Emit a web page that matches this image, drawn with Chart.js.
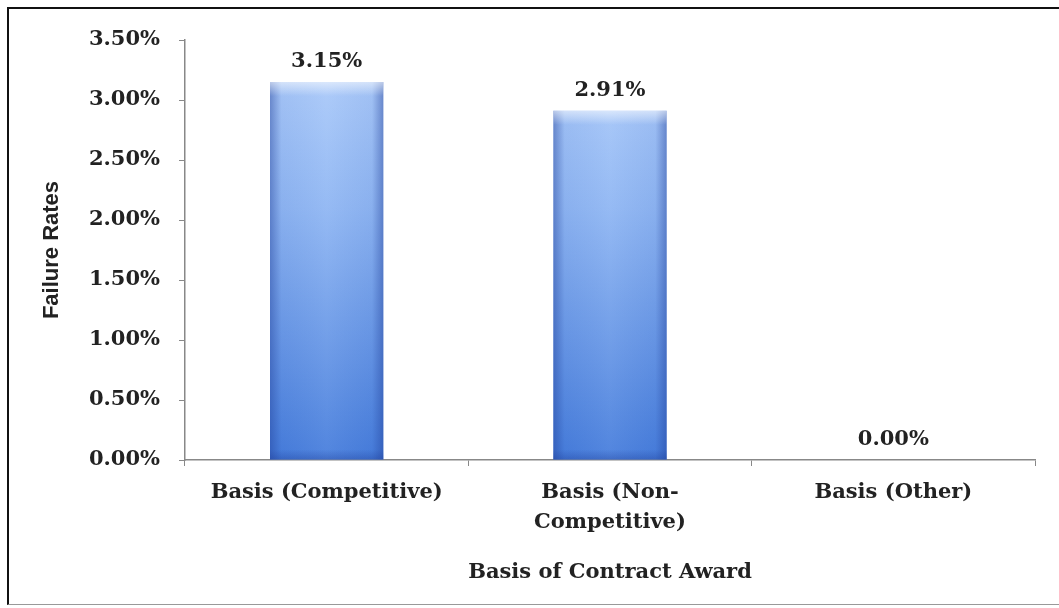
<!DOCTYPE html>
<html><head><meta charset="utf-8">
<script src="https://cdn.jsdelivr.net/npm/chart.js@4/dist/chart.umd.min.js"></script>
<style>
html,body{margin:0;padding:0;background:#fff;overflow:hidden;}
#wrap{position:absolute;left:0;top:0;width:1059px;height:608px;}
#box{position:absolute;left:7px;top:7px;width:1060px;height:598px;border-left:2px solid #111;border-top:2px solid #111;border-bottom:1px solid #999;box-sizing:border-box;pointer-events:none;}
</style></head>
<body>
<div id="wrap"><canvas id="c"></canvas></div>
<div id="box"></div>
<script>
const categories = [["Basis (Competitive)"], ["Basis (Non-", "Competitive)"], ["Basis (Other)"]];
const failureRates = [3.15, 2.91, 0.00];
const yTicks = [0, 0.5, 1.0, 1.5, 2.0, 2.5, 3.0, 3.5];
const xTitle = "Basis of Contract Award";
const yTitle = "Failure Rates";

const SERIF = "'DejaVu Serif', 'Liberation Serif', serif";
const SANS = "'Liberation Sans', Arial, sans-serif";

const valueLabels = {
  id: 'valueLabels',
  afterDatasetsDraw(chart) {
    const ctx = chart.ctx;
    const meta = chart.getDatasetMeta(0);
    ctx.save();
    ctx.font = "bold 21px " + SERIF;
    ctx.fillStyle = "#222";
    ctx.textAlign = "center";
    ctx.textBaseline = "alphabetic";
    meta.data.forEach((bar, i) => {
      ctx.fillText(failureRates[i].toFixed(2) + "%", bar.x, bar.y - 15);
    });
    ctx.restore();
  }
};

const barShade = {
  id: 'barShade',
  afterDatasetDraw(chart) {
    const ctx = chart.ctx;
    const meta = chart.getDatasetMeta(0);
    ctx.save();
    meta.data.forEach((bar) => {
      const w = bar.width, left = bar.x - w / 2, top = bar.y, h = bar.base - bar.y;
      if (h <= 0) return;
      const g = ctx.createLinearGradient(left, 0, left + w, 0);
      g.addColorStop(0, 'rgba(30,60,150,0.45)');
      g.addColorStop(0.1, 'rgba(30,60,150,0.05)');
      g.addColorStop(0.5, 'rgba(255,255,255,0.06)');
      g.addColorStop(0.9, 'rgba(30,60,150,0.05)');
      g.addColorStop(1, 'rgba(30,60,150,0.45)');
      ctx.fillStyle = g;
      ctx.fillRect(left, top, w, h);
      const t = ctx.createLinearGradient(0, top, 0, top + 14);
      t.addColorStop(0, 'rgba(255,255,255,0.55)');
      t.addColorStop(1, 'rgba(255,255,255,0)');
      ctx.fillStyle = t;
      ctx.fillRect(left, top, w, 14);
      const b = ctx.createLinearGradient(0, top + h - 10, 0, top + h);
      b.addColorStop(0, 'rgba(30,60,150,0)');
      b.addColorStop(1, 'rgba(30,60,150,0.35)');
      ctx.fillStyle = b;
      ctx.fillRect(left, top + h - 10, w, 10);
    });
    ctx.restore();
  }
};

new Chart(document.getElementById('c'), {
  type: 'bar',
  data: {
    labels: categories,
    datasets: [{
      data: failureRates,
      backgroundColor: (c) => {
        const area = c.chart.chartArea;
        if (!area) return '#6a9be8';
        const g = c.chart.ctx.createLinearGradient(0, area.top, 0, area.bottom);
        g.addColorStop(0, '#b2cffb');
        g.addColorStop(0.4, '#8fb6f3');
        g.addColorStop(1, '#467ddc');
        return g;
      },
      borderWidth: 0,
      barPercentage: 0.4,
      categoryPercentage: 1.0
    }]
  },
  plugins: [barShade, valueLabels],
  options: {
    responsive: true,
    maintainAspectRatio: false,
    animation: false,
    layout: { padding: { left: 0, right: 24, top: 40, bottom: 0 } },
    plugins: { legend: { display: false }, tooltip: { enabled: false } },
    scales: {
      x: {
        afterFit: (axis) => { axis.height = 148; },
        grid: { display: true, drawOnChartArea: false, drawTicks: true, tickLength: 6, color: '#888', offset: true },
        border: { display: true, color: '#888', width: 1.5 },
        ticks: { color: '#222', font: { family: SERIF, size: 21, weight: 'bold', lineHeight: 1.4 }, padding: 12, maxRotation: 0, autoSkip: false },
        title: { display: true, text: xTitle, color: '#222', font: { family: SERIF, size: 21, weight: 'bold' }, padding: { top: 0, bottom: 23 } }
      },
      y: {
        min: 0, max: 3.5,
        afterFit: (axis) => { axis.width = 185; },
        afterBuildTicks: (axis) => { axis.ticks = yTicks.map(v => ({ value: v })); },
        grid: { display: true, drawOnChartArea: false, drawTicks: true, tickLength: 6, color: '#888' },
        border: { display: true, color: '#888', width: 1.5 },
        ticks: { color: '#222', font: { family: SERIF, size: 21, weight: 'bold' }, padding: 19,
          callback: (v) => Number(v).toFixed(2) + '%' },
        title: { display: true, text: yTitle, color: '#222', font: { family: SANS, size: 22, weight: 'bold' }, padding: { top: 39, bottom: 0 } }
      }
    }
  }
});
</script>
</body></html>
